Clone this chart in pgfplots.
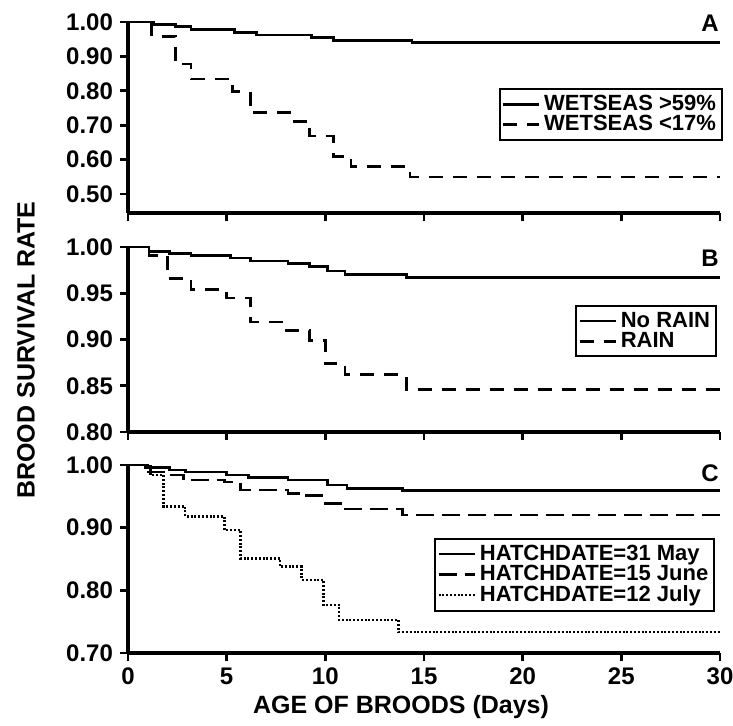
\documentclass[border=0pt]{standalone}
\usepackage{fontspec}
\setmainfont{Liberation Sans}
\usepackage{pgfplots}
\pgfplotsset{compat=1.18}

\pgfplotsset{
  km/.style={
    scale only axis, width=296pt,
    xmin=0, xmax=30,
    axis x line*=bottom, axis y line*=left,
    axis line style={line width=1.6pt, -},
    tick align=outside, major tick length=4pt,
    every tick/.style={line width=1.4pt, black},
    xtick={0,5,...,30},
    tick label style={font=\bfseries\fontsize{12}{12}\selectfont},
    /pgf/number format/assume math mode=true,
    yticklabel style={/pgf/number format/.cd, fixed, fixed zerofill, precision=2},
    clip=false, const plot,
    legend cell align=left,
    legend style={draw=black, line width=1pt, anchor=north east,
      font=\bfseries\fontsize{11}{10}\selectfont,
      inner sep=1pt, row sep=-3pt},
    legend image code/.code={\draw[#1, line width=1.3pt] (0pt,0pt) -- (18pt,0pt);},
  },
  surv/.style={line width=1.3pt, black},
}

\begin{document}
\begin{tikzpicture}
\useasboundingbox (0,0) rectangle (366.5pt,-362.5pt);

% panel A
\begin{axis}[km, at={(64pt,-11pt)}, anchor=north west, height=95.5pt,
  ymin=0.445, ymax=1.0, ytick={0.5,0.6,0.7,0.8,0.9,1.0}, xticklabels={},
  legend style={at={(1.005,0.654)}}]
\addplot[surv] coordinates {(0,1) (1.3,0.993) (2.4,0.987) (3.2,0.978) (5.4,0.970)
  (6.5,0.962) (9.3,0.955) (10.4,0.946) (14.4,0.94) (30,0.94)};
\addlegendentry{WETSEAS >59\%}
\addplot[surv, dash pattern=on 7pt off 5pt] coordinates {(0,1) (1.2,0.958) (2.4,0.878)
  (3.2,0.834) (5.3,0.798) (6.2,0.737) (8.2,0.711) (9.2,0.669) (10.4,0.61)
  (11.3,0.58) (14.3,0.55) (30,0.55)};
\addlegendentry{WETSEAS <17\%}
\end{axis}

% panel B
\begin{axis}[km, at={(64pt,-123.5pt)}, anchor=north west, height=92.5pt,
  ymin=0.8, ymax=1.0, ytick={0.8,0.85,0.9,0.95,1.0}, xticklabels={},
  legend style={at={(0.995,0.686)}}]
\addplot[surv] coordinates {(0,1) (1.07,0.995) (2.1,0.993) (3.2,0.991) (5.2,0.988)
  (6.2,0.985) (8.1,0.982) (9.2,0.979) (10.1,0.974) (11.0,0.970) (14.1,0.967) (30,0.967)};
\addlegendentry{No RAIN}
\addplot[surv, dash pattern=on 7pt off 5pt] coordinates {(0,1) (1.07,0.991) (2.0,0.966)
  (3.2,0.954) (5.0,0.945) (6.2,0.919) (8.0,0.910) (9.2,0.899) (10.0,0.874)
  (11.0,0.862) (14.1,0.846) (30,0.846)};
\addlegendentry{RAIN}
\end{axis}

% panel C
\begin{axis}[km, at={(64pt,-232.5pt)}, anchor=north west, height=94pt,
  ymin=0.7, ymax=1.0, ytick={0.7,0.8,0.9,1.0},
  xticklabel style={/pgf/number format/.cd, fixed, precision=0},
  legend style={at={(0.992,0.612)}}]
\addplot[surv] coordinates {(0,1) (0.9,0.996) (2.1,0.992) (2.9,0.989) (5.0,0.984)
  (6.1,0.980) (8.1,0.976) (10.1,0.968) (11.1,0.963) (13.9,0.959) (30,0.959)};
\addlegendentry{HATCHDATE=31 May}
\addplot[surv, dash pattern=on 9pt off 4pt] coordinates {(0,1) (0.9,0.989) (1.8,0.984)
  (2.8,0.976) (4.9,0.973) (5.7,0.960) (8.1,0.955) (8.9,0.951) (9.9,0.939)
  (10.9,0.930) (13.9,0.920) (30,0.920)};
\addlegendentry{HATCHDATE=15 June}
\addplot[surv, line width=1.2pt, dash pattern=on 1pt off 0.9pt] coordinates {(0,1)
  (1.15,0.984) (1.8,0.934) (2.9,0.918) (4.9,0.896) (5.7,0.851) (7.7,0.838)
  (8.8,0.817) (9.9,0.777) (10.7,0.753) (13.7,0.734) (30,0.734)};
\addlegendentry{HATCHDATE=12 July}
\end{axis}

\node[font=\bfseries\fontsize{12}{12}\selectfont] at (355pt,-11.5pt) {A};
\node[font=\bfseries\fontsize{12}{12}\selectfont] at (355pt,-129pt) {B};
\node[font=\bfseries\fontsize{12}{12}\selectfont] at (355pt,-236.5pt) {C};
\node[rotate=90, font=\bfseries\fontsize{12.5}{12.5}\selectfont] at (13pt,-175pt) {BROOD SURVIVAL RATE};
\node[font=\bfseries\fontsize{12.5}{12.5}\selectfont] at (200.5pt,-353.5pt) {AGE OF BROODS (Days)};
\end{tikzpicture}
\end{document}
